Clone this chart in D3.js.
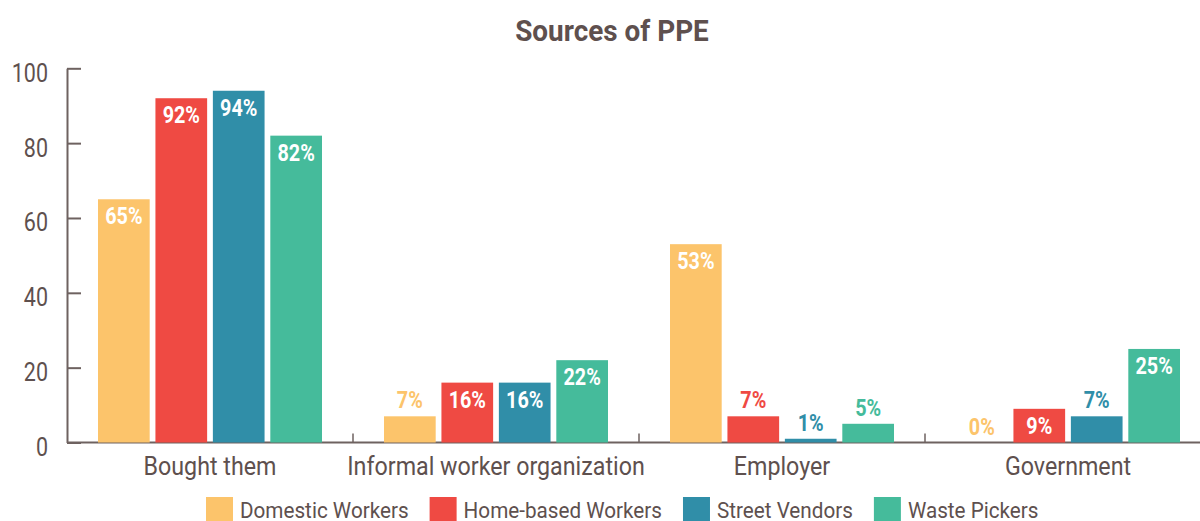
<!DOCTYPE html>
<html>
<head>
<meta charset="utf-8">
<script src="https://cdn.jsdelivr.net/npm/d3@7"></script>
<style>
  html, body { margin: 0; padding: 0; background: #fff; }
  #c { width: 1200px; height: 521px; }
  text { font-family: Roboto, "Noto Sans", sans-serif; }
</style>
</head>
<body>
<div id="c"></div>
<script>
"use strict";

// data
const categories = ["Bought them", "Informal worker organization", "Employer", "Government"]
const groups = ["Domestic Workers", "Home-based Workers", "Street Vendors", "Waste Pickers"]
const domestic = [65, 7, 53, 0]
const homeBased = [92, 16, 7, 9]
const streetVendors = [94, 16, 1, 7]
const wastePickers = [82, 22, 5, 25]
const yTicks = [0, 20, 40, 60, 80, 100]
const colors = ["#fcc46b", "#ef4a43", "#308ea8", "#45bb9b"]

const seriesValues = [domestic, homeBased, streetVendors, wastePickers]
const textColor = "#5e504e"
const axisColor = "#6e6260"

let svg, x0, x1, y

window.onload = function() {
    createChart()
    drawBars()
    drawLegend()
}

// the original uses a condensed face, so Roboto gets squeezed a bit
function place(sel, x, yy, squeeze) {
    sel.attr('transform', 'translate(' + x + ',' + yy + ') scale(' + squeeze + ',1)')
}

function createChart() {
    const width = 1200, height = 521
    svg = d3.select('#c').append('svg')
        .attr('width', width)
        .attr('height', height)

    x0 = d3.scaleBand().domain(categories).range([67, 1211]).padding(0)
    x1 = d3.scaleBand().domain(groups).range([31, 255]).paddingInner(0.1).paddingOuter(0)
    y = d3.scaleLinear().domain([0, 100]).range([442.5, 68.3])

    svg.append('text')
        .text('Sources of PPE')
        .attr('text-anchor', 'middle')
        .style('font-size', '30px')
        .style('font-weight', 'bold')
        .attr('fill', textColor)
        .call(place, 612, 41, 0.93)

    // left axis
    let yAxis = svg.append('g')
        .attr('transform', 'translate(67,0)')
        .call(d3.axisLeft(y).tickValues(yTicks).tickSize(-14).tickSizeOuter(0).tickPadding(0))
    yAxis.select('.domain').attr('stroke', axisColor).attr('stroke-width', 2)
    yAxis.selectAll('.tick line').attr('stroke', axisColor).attr('stroke-width', 2)
    yAxis.selectAll('.tick text')
        .attr('x', 0).attr('dy', null)
        .attr('text-anchor', 'end')
        .attr('fill', textColor)
        .style('font-size', '25px')
        .attr('font-family', null)
        .call(place, -19, 13, 0.86)

    // bottom axis
    let base = svg.append('g')
    base.append('line')
        .attr('x1', x0.range()[0]).attr('x2', x0.range()[1])
        .attr('y1', y(0)).attr('y2', y(0))
        .attr('stroke', axisColor).attr('stroke-width', 2)
    base.selectAll('line.sep')
        .data(categories.slice(1))
        .enter().append('line')
        .attr('class', 'sep')
        .attr('x1', d => x0(d)).attr('x2', d => x0(d))
        .attr('y1', y(0)).attr('y2', y(0) - 9)
        .attr('stroke', axisColor).attr('stroke-width', 1.5)
    base.selectAll('text.cat')
        .data(categories)
        .enter().append('text')
        .attr('class', 'cat')
        .text(d => d)
        .attr('text-anchor', 'middle')
        .attr('fill', textColor)
        .style('font-size', '25px')
        .each(function(d) {
            d3.select(this).call(place, x0(d) + x0.bandwidth() / 2, 475, 0.93)
        })
}

function drawBars() {
    let rows = []
    categories.forEach((c, ci) => {
        groups.forEach((g, gi) => {
            rows.push({ cat: c, group: g, gi: gi, value: seriesValues[gi][ci] })
        })
    })

    let layer = svg.append('g')
    layer.selectAll('rect')
        .data(rows)
        .enter().append('rect')
        .attr('x', d => x0(d.cat) + x1(d.group))
        .attr('y', d => y(d.value))
        .attr('width', x1.bandwidth())
        .attr('height', d => y(0) - y(d.value))
        .attr('fill', d => colors[d.gi])

    layer.selectAll('text')
        .data(rows)
        .enter().append('text')
        .text(d => d.value + '%')
        .attr('text-anchor', 'middle')
        .style('font-size', '23px')
        .style('font-weight', 'bold')
        .attr('fill', d => d.value >= 9 ? '#fff' : colors[d.gi])
        .each(function(d) {
            let cx = x0(d.cat) + x1(d.group) + x1.bandwidth() / 2
            let ty = d.value >= 9 ? y(d.value) + 25 : y(d.value) - 8
            d3.select(this).call(place, cx, ty, 0.86)
        })
}

function drawLegend() {
    let lx = 206
    groups.forEach((g, i) => {
        let item = svg.append('g')
        item.append('rect')
            .attr('x', lx).attr('y', 497)
            .attr('width', 27).attr('height', 27)
            .attr('fill', colors[i])
        let t = item.append('text')
            .text(g)
            .attr('fill', textColor)
            .style('font-size', '22px')
            .call(place, lx + 34, 518, 0.94)
        lx += 34 + t.node().getComputedTextLength() * 0.94 + 21
    })
}
</script>
</body>
</html>
